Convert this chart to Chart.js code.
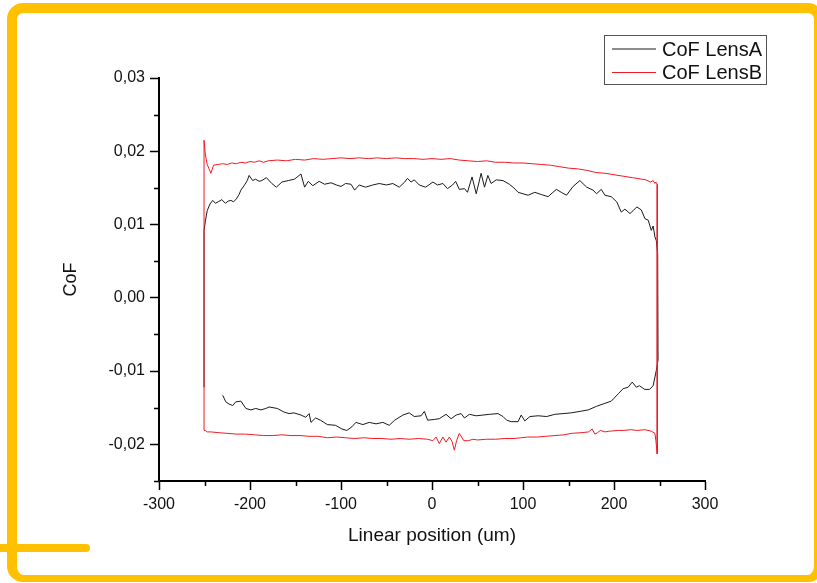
<!DOCTYPE html>
<html>
<head>
<meta charset="utf-8">
<script src="https://cdn.jsdelivr.net/npm/chart.js@4.4.0/dist/chart.umd.min.js"></script>
<style>
  html, body { margin: 0; padding: 0; background: #fff; overflow: hidden; }
  #wrap { position: relative; width: 817px; height: 583px; }
  #myChart { position: absolute; left: 0; top: 0; }
  .frame { position: absolute; left: 7px; top: 3px; width: 817px; height: 579px; box-sizing: border-box;
           border: 10px solid #ffc000; border-bottom-width: 7px; border-radius: 16px; pointer-events: none; }
  .squiggle { position: absolute; left: -4px; top: 544px; width: 94px; height: 8px; background: #ffc000; border-radius: 4px; }
</style>
</head>
<body>
<div id="wrap">
  <canvas id="myChart" width="817" height="583"></canvas>
  <div class="frame"></div>
  <div class="squiggle"></div>
</div>
<script>
// CoF LensA, forward stroke (left -> right)
const lensA_up_x = [
  -250.5, -250.5, -249, -247, -244, -241, -238, -235, -231, -227,
  -224, -221, -218, -215, -212, -210, -206, -203, -201, -197,
  -194, -190, -187, -182, -176, -171, -165, -158, -151, -144,
  -140, -136, -131, -124, -118, -111, -105, -100, -95, -89,
  -85, -80, -73, -65, -58, -50, -43, -36, -30, -27,
  -23, -19.5, -14, -7, 1, 6, 12, 17, 22.6, 26,
  30, 35.7, 39, 44, 48.6, 54, 57.7, 61.4, 65, 70.5,
  78, 85, 90, 94.6, 100, 105.6, 113, 120, 127.6, 132,
  136.8, 142, 147.8, 155, 162.5, 170, 177, 180.8, 186, 190,
  197, 203, 208, 212, 217.6, 221, 225, 230, 234, 237.6,
  241, 243, 245, 246.5, 248
];
const lensA_up_y = [
  -0.0122, 0.0092, 0.0105, 0.0119, 0.0128, 0.0133, 0.0129, 0.0131, 0.0134, 0.0129,
  0.0132, 0.0133, 0.0131, 0.0135, 0.0141, 0.0147, 0.0154, 0.0160, 0.0167, 0.0160,
  0.0162, 0.0159, 0.0160, 0.0164, 0.0156, 0.0151, 0.0158, 0.0160, 0.0162, 0.0169,
  0.0151, 0.0159, 0.0153, 0.0159, 0.0155, 0.0157, 0.0154, 0.0152, 0.0156, 0.0155,
  0.0147, 0.0154, 0.0151, 0.0154, 0.0156, 0.0154, 0.0156, 0.0151, 0.0158, 0.0163,
  0.0158, 0.0161, 0.0154, 0.0151, 0.0158, 0.0154, 0.0156, 0.0149, 0.0154, 0.0159,
  0.0148, 0.0149, 0.0144, 0.0165, 0.0142, 0.0170, 0.0151, 0.0167, 0.0156, 0.0161,
  0.0160, 0.0155, 0.0150, 0.0144, 0.0142, 0.0140, 0.0144, 0.0141, 0.0138, 0.0143,
  0.0148, 0.0144, 0.0140, 0.0152, 0.0160, 0.0151, 0.0147, 0.0142, 0.0148, 0.0140,
  0.0138, 0.0131, 0.0117, 0.0121, 0.0115, 0.0119, 0.0124, 0.0120, 0.0108, 0.0106,
  0.0092, 0.0098, 0.0083, 0.0078, 0.0060
];
// CoF LensA, return stroke (right -> left)
const lensA_down_x = [
  248, 248.4, 246.5, 243, 239, 233.8, 228, 224.5, 220, 215.6,
  210, 204.7, 197, 190, 181, 171.6, 162.5, 153, 144, 135,
  126, 116.6, 107.6, 102, 98, 94.6, 87, 82, 78, 72.5,
  63.4, 56, 48.6, 41, 35.7, 32, 26.6, 21, 15.4, 8,
  2.6, -4.8, -8.4, -12, -19.5, -25, -32, -41, -47, -54,
  -61.5, -69, -76, -83.6, -88, -93.6, -99, -106, -115, -122.6,
  -128, -133, -135, -138.8, -144, -151.7, -157, -162.5, -170, -179,
  -182.6, -188, -193.7, -199, -204.5, -210, -215.6, -219, -223, -226.6,
  -230
];
const lensA_down_y = [
  0.0060, -0.0085, -0.0099, -0.0120, -0.0125, -0.0125, -0.0120, -0.0122, -0.0115, -0.0122,
  -0.0124, -0.0131, -0.0141, -0.0144, -0.0148, -0.0153, -0.0155, -0.0157, -0.0158, -0.0159,
  -0.0162, -0.0161, -0.0162, -0.0168, -0.0160, -0.0169, -0.0169, -0.0167, -0.0162, -0.0158,
  -0.0159, -0.0160, -0.0161, -0.0159, -0.0164, -0.0158, -0.0160, -0.0165, -0.0159, -0.0165,
  -0.0166, -0.0167, -0.0155, -0.0161, -0.0162, -0.0157, -0.0160, -0.0167, -0.0174, -0.0170,
  -0.0172, -0.0170, -0.0173, -0.0170, -0.0176, -0.0181, -0.0179, -0.0174, -0.0173, -0.0167,
  -0.0164, -0.0170, -0.0158, -0.0163, -0.0160, -0.0157, -0.0158, -0.0156, -0.0151, -0.0149,
  -0.0151, -0.0153, -0.0151, -0.0153, -0.0151, -0.0141, -0.0142, -0.0147, -0.0145, -0.0142,
  -0.0133
];
// CoF LensB, forward stroke
const lensB_up_x = [
  -250.5, -249, -247, -245, -243, -240, -235, -230, -225, -220,
  -215, -210, -205, -200, -195, -190, -185, -180, -170, -160,
  -150, -140, -130, -120, -110, -100, -90, -80, -70, -60,
  -50, -40, -30, -20, -10, 0, 10, 20, 30, 40,
  50, 60, 70, 80, 90, 100, 110, 120, 130, 140,
  150, 160, 170, 180, 190, 200, 210, 220, 230, 235,
  240, 243, 245, 246, 247.5
];
const lensB_up_y = [
  0.0215, 0.0195, 0.0182, 0.0176, 0.0170, 0.0181, 0.0182, 0.0183, 0.0182, 0.0184,
  0.0183, 0.0185, 0.0184, 0.0186, 0.0185, 0.0187, 0.0185, 0.0187, 0.0188, 0.0187,
  0.0189, 0.0188, 0.0190, 0.0189, 0.0190, 0.0191, 0.0190, 0.0191, 0.0190, 0.0191,
  0.0190, 0.0191, 0.0190, 0.0190, 0.0189, 0.0190, 0.0189, 0.0190, 0.0188, 0.0187,
  0.0186, 0.0187, 0.0185, 0.0185, 0.0184, 0.0184, 0.0183, 0.0182, 0.0181, 0.0179,
  0.0177, 0.0176, 0.0174, 0.0171, 0.0170, 0.0168, 0.0166, 0.0164, 0.0162, 0.0161,
  0.0158, 0.0160, 0.0156, 0.0158, 0.0155
];
// CoF LensB, return stroke
const lensB_down_x = [
  247.5, 246, 245, 241, 234, 225, 219, 210, 205, 195,
  190, 185, 182, 179, 176, 172, 165, 153, 145, 135,
  125, 116, 105, 98, 90, 80, 70, 60, 50, 45,
  40, 35, 30, 27, 24.6, 22, 19, 15.4, 12, 8,
  4.5, 1, -5, -15, -25, -35, -45, -55, -65, -75,
  -85, -95, -105, -115, -125, -135, -145, -155, -165, -175,
  -185, -195, -205, -215, -225, -235, -243, -247, -249, -250.5
];
const lensB_down_y = [
  -0.0213, -0.0195, -0.0185, -0.0182, -0.0180, -0.0181, -0.0180, -0.0181, -0.0181, -0.0182,
  -0.0183, -0.0181, -0.0184, -0.0186, -0.0179, -0.0183, -0.0184, -0.0185, -0.0187, -0.0188,
  -0.0189, -0.0190, -0.0190, -0.0191, -0.0192, -0.0192, -0.0193, -0.0193, -0.0194, -0.0193,
  -0.0195, -0.0195, -0.0185, -0.0195, -0.0208, -0.0196, -0.0190, -0.0197, -0.0190, -0.0199,
  -0.0190, -0.0195, -0.0193, -0.0192, -0.0193, -0.0192, -0.0193, -0.0192, -0.0192, -0.0191,
  -0.0192, -0.0191, -0.0190, -0.0191, -0.0189, -0.0189, -0.0188, -0.0188, -0.0187, -0.0188,
  -0.0188, -0.0187, -0.0186, -0.0186, -0.0185, -0.0184, -0.0183, -0.0183, -0.0181, -0.0181
];

const FONT = '"Liberation Sans", Arial, sans-serif';

function pts(xs, ys) {
  return xs.map((x, i) => ({ x: x, y: ys[i] }));
}
function isMajorY(v) { return Math.abs(Math.round(v * 200)) % 2 === 0; }
function isMajorX(v) { return Math.round(v) % 100 === 0; }

const lensA = pts(lensA_up_x, lensA_up_y).concat(pts(lensA_down_x, lensA_down_y));
const lensB = pts(lensB_up_x, lensB_up_y).concat(pts(lensB_down_x, lensB_down_y),
  [{ x: lensB_up_x[0], y: lensB_up_y[0] }]);

// short minor ticks, drawn at the scale's own tick positions
const minorTicks = {
  id: 'minorTicks',
  afterDraw(chart) {
    const c = chart.ctx, xs = chart.scales.x, ys = chart.scales.y;
    c.save();
    c.strokeStyle = '#000';
    c.lineWidth = 1.5;
    c.beginPath();
    xs.ticks.forEach(t => {
      if (!isMajorX(t.value)) {
        const px = Math.round(xs.getPixelForValue(t.value)) + 0.5;
        c.moveTo(px, xs.top);
        c.lineTo(px, xs.top + 5);
      }
    });
    ys.ticks.forEach(t => {
      if (!isMajorY(t.value)) {
        const py = Math.round(ys.getPixelForValue(t.value)) + 0.5;
        c.moveTo(ys.right, py);
        c.lineTo(ys.right - 5, py);
      }
    });
    c.stroke();
    c.restore();
  }
};

// boxed legend in the top right corner
const boxLegend = {
  id: 'boxLegend',
  afterDraw(chart) {
    const c = chart.ctx;
    c.save();
    c.strokeStyle = '#555';
    c.lineWidth = 1;
    c.strokeRect(604.5, 35.5, 162, 49);
    c.font = '20px ' + FONT;
    c.textBaseline = 'middle';
    c.fillStyle = '#111';
    chart.data.datasets.forEach((ds, i) => {
      const y = 49 + i * 23.5;
      c.strokeStyle = ds.borderColor;
      c.beginPath();
      c.moveTo(612, y);
      c.lineTo(656, y);
      c.stroke();
      c.fillText(ds.label, 662, y + 1);
    });
    c.restore();
  }
};

const ctx = document.getElementById('myChart');
new Chart(ctx, {
  type: 'scatter',
  data: {
    datasets: [
      { label: 'CoF LensA', data: lensA, showLine: true, borderColor: '#1a1a1a', borderWidth: 1,
        pointRadius: 0, tension: 0, order: 1 },
      { label: 'CoF LensB', data: lensB, showLine: true, borderColor: '#f01a24', borderWidth: 1,
        pointRadius: 0, tension: 0, order: 0 }
    ]
  },
  options: {
    responsive: false,
    animation: false,
    layout: { padding: { left: 20, top: 78, right: 112, bottom: 30 } },
    plugins: { legend: { display: false }, tooltip: { enabled: false } },
    scales: {
      x: {
        type: 'linear', position: 'bottom', min: -300, max: 300,
        afterFit: s => { s.height = 72; },
        ticks: {
          stepSize: 50, autoSkip: false, maxRotation: 0, padding: 5, color: '#111',
          font: { size: 16, family: FONT },
          callback: v => isMajorX(v) ? String(Math.round(v)) : ''
        },
        grid: {
          drawOnChartArea: false, drawTicks: true, tickLength: 9, tickWidth: 1.5,
          tickColor: c => (c.tick && isMajorX(c.tick.value)) ? '#000' : 'rgba(0,0,0,0)'
        },
        border: { display: true, color: '#000', width: 2 },
        title: { display: true, text: 'Linear position (um)', color: '#111',
                 font: { size: 19, family: FONT }, padding: { top: 0, bottom: 6 } }
      },
      y: {
        type: 'linear', position: 'left', min: -0.025, max: 0.03,
        afterFit: s => { s.width = 139; },
        ticks: {
          stepSize: 0.005, autoSkip: false, padding: 5, color: '#111',
          font: { size: 16, family: FONT },
          callback: v => {
            if (!isMajorY(v)) return '';
            if (Math.abs(v) < 1e-9) return '0,00';
            return v.toFixed(2).replace('.', ',');
          }
        },
        grid: {
          drawOnChartArea: false, drawTicks: true, tickLength: 9, tickWidth: 1.5,
          tickColor: c => (c.tick && isMajorY(c.tick.value)) ? '#000' : 'rgba(0,0,0,0)'
        },
        border: { display: true, color: '#000', width: 2 },
        title: { display: true, text: 'CoF', color: '#111',
                 font: { size: 18, family: FONT }, padding: { top: 40, bottom: 0 } }
      }
    }
  },
  plugins: [minorTicks, boxLegend]
});
</script>
</body>
</html>
